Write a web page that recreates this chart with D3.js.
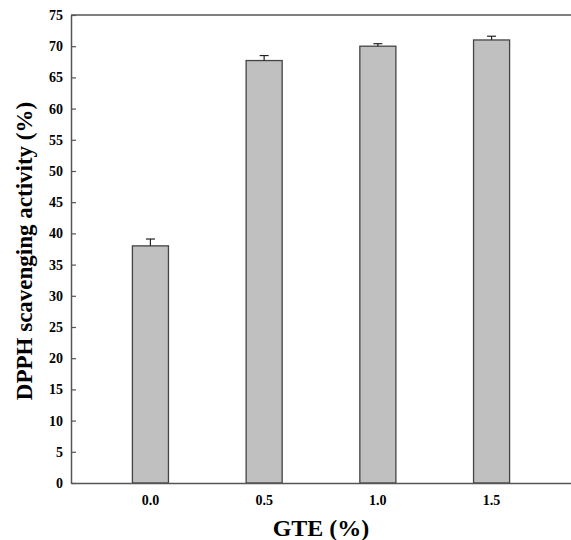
<!DOCTYPE html>
<html>
<head>
<meta charset="utf-8">
<script src="https://cdn.jsdelivr.net/npm/d3@7"></script>
<style>
  body { margin: 0; background: #fff; }
  text { font-family: "Liberation Serif", "Times New Roman", serif; font-weight: bold; fill: #000; }
</style>
</head>
<body>
<svg></svg>
<script>
var width = 571;
var height = 540;

var categories = ['0.0', '0.5', '1.0', '1.5'];
var values = [38.0, 67.7, 70.0, 71.0];
var errors = [1.1, 0.8, 0.4, 0.6];
var yTicks = [0, 5, 10, 15, 20, 25, 30, 35, 40, 45, 50, 55, 60, 65, 70, 75];

var plotLeft = 71, plotRight = 571, plotTop = 15, plotBottom = 483;

var svg = d3.select('svg')
    .attr('width', width)
    .attr('height', height);

var x = d3.scaleBand()
    .domain(categories)
    .range([plotLeft, plotRight])
    .paddingInner(0.683)
    .paddingOuter(0.54);

var y = d3.scaleLinear()
    .domain([0, 75])
    .range([plotBottom, plotTop]);

var data = categories.map(function(c, i) {
    return {cat: c, value: values[i], err: errors[i]};
});

// top frame line
svg.append('line')
    .attr('x1', plotLeft).attr('x2', plotRight)
    .attr('y1', plotTop).attr('y2', plotTop)
    .attr('stroke', '#555').attr('stroke-width', 1.5);

// bars
svg.append('g')
    .selectAll('rect')
    .data(data)
    .enter().append('rect')
    .attr('x', function(d) { return x(d.cat); })
    .attr('y', function(d) { return y(d.value); })
    .attr('width', x.bandwidth())
    .attr('height', function(d) { return y(0) - y(d.value); })
    .attr('fill', '#c0c0c0')
    .attr('stroke', '#444')
    .attr('stroke-width', 1.3);

// error bars (upper only)
var eb = svg.append('g').selectAll('g')
    .data(data)
    .enter().append('g')
    .attr('stroke', '#222')
    .attr('stroke-width', 1.2);

eb.append('line')
    .attr('x1', function(d) { return x(d.cat) + x.bandwidth() / 2; })
    .attr('x2', function(d) { return x(d.cat) + x.bandwidth() / 2; })
    .attr('y1', function(d) { return y(d.value); })
    .attr('y2', function(d) { return y(d.value + d.err); });

eb.append('line')
    .attr('x1', function(d) { return x(d.cat) + x.bandwidth() / 2 - 4.5; })
    .attr('x2', function(d) { return x(d.cat) + x.bandwidth() / 2 + 4.5; })
    .attr('y1', function(d) { return y(d.value + d.err); })
    .attr('y2', function(d) { return y(d.value + d.err); });

// y axis, inward ticks
var yAxis = svg.append('g')
    .attr('transform', 'translate(' + plotLeft + ',0)')
    .call(d3.axisLeft(y).tickValues(yTicks).tickSize(-5).tickPadding(8).tickSizeOuter(0));
yAxis.select('.domain').attr('stroke', '#555').attr('stroke-width', 1.5);
yAxis.selectAll('.tick line').attr('stroke', '#555').attr('stroke-width', 1.2);
yAxis.selectAll('text').style('font-size', '14px').attr('fill', '#000')
    .attr('font-family', null);

// x axis, no ticks
var xAxis = svg.append('g')
    .attr('transform', 'translate(0,' + plotBottom + ')')
    .call(d3.axisBottom(x).tickSize(0).tickPadding(12).tickSizeOuter(0));
xAxis.select('.domain').attr('stroke', '#555').attr('stroke-width', 1.5);
xAxis.selectAll('text').style('font-size', '14px').attr('fill', '#000')
    .attr('font-family', null);

// titles
svg.append('text')
    .attr('x', (plotLeft + plotRight) / 2)
    .attr('y', 536)
    .attr('text-anchor', 'middle')
    .style('font-size', '24px')
    .text('GTE (%)');

svg.append('text')
    .attr('transform', 'translate(32,251) rotate(-90)')
    .attr('text-anchor', 'middle')
    .style('font-size', '23px')
    .text('DPPH scavenging activity (%)');
</script>
</body>
</html>
